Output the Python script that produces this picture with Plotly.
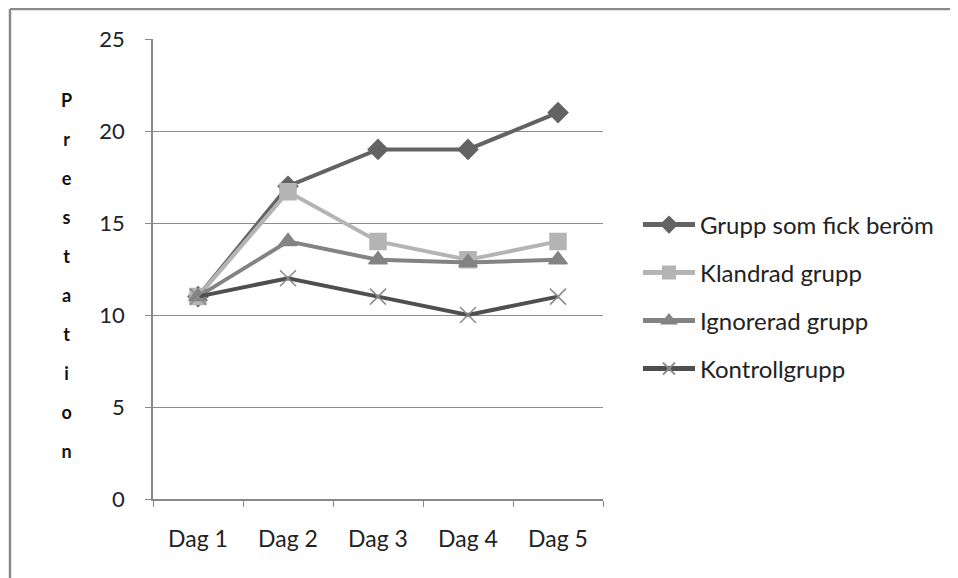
import plotly.graph_objects as go

categories = ["Dag 1", "Dag 2", "Dag 3", "Dag 4", "Dag 5"]
series_names = ["Grupp som fick beröm", "Klandrad grupp", "Ignorerad grupp", "Kontrollgrupp"]
grupp_berom = [11, 17, 19, 19, 21]
klandrad = [11, 16.7, 14, 13, 14]
ignorerad = [11, 14, 13, 12.85, 13]
kontroll = [11, 12, 11, 10, 11]
y_ticks = [0, 5, 10, 15, 20, 25]
y_title = "Prestation"

OFF = 8  # page body margin
W, H = 958 - OFF, 578 - OFF
L, R, T, B = 153 - OFF, 603 - OFF, 39 - OFF, 499 - OFF

def px_x(p):
    return (p - OFF - L) / (R - L)

def px_y(p):
    return (B - (p - OFF)) / (B - T)

styles = [
    dict(color="#636363", symbol="diamond", msize=15, mcolor="#636363"),
    dict(color="#b4b4b4", symbol="square", msize=16, mcolor="#b4b4b4"),
    dict(color="#838383", symbol="triangle-up", msize=16, mcolor="#838383"),
    dict(color="#4f4f4f", symbol="x-thin", msize=16, mcolor="#8a8a8a"),
]
data = [grupp_berom, klandrad, ignorerad, kontroll]
legend_ids = ["legend", "legend2", "legend3", "legend4"]
legend_py = [225, 273, 321, 369]

fig = go.Figure()
for name, vals, st, lid in zip(series_names, data, styles, legend_ids):
    fig.add_trace(go.Scatter(
        x=categories, y=vals, name=name, mode="lines+markers",
        line=dict(color=st["color"], width=4),
        marker=dict(symbol=st["symbol"], size=st["msize"], color=st["mcolor"],
                    line=dict(color=st["mcolor"], width=1.5)),
        legend=lid,
    ))

font_family = "Lato, 'Open Sans', sans-serif"
legend_common = dict(font=dict(family=font_family, size=24, color="#222"),
                     bgcolor="rgba(0,0,0,0)", itemwidth=52, xanchor="left",
                     yanchor="middle", itemsizing="constant")
layout_legends = {}
for lid, py in zip(legend_ids, legend_py):
    layout_legends[lid] = dict(legend_common, x=px_x(638), y=px_y(py))

letters = ["<span style='font-size:18px'>" + c + "</span>" for c in y_title]
title_text = "<br>".join(letters)

fig.update_layout(
    width=W, height=H,
    margin=dict(l=L, r=W - R, t=T, b=H - B),
    paper_bgcolor="white", plot_bgcolor="white",
    showlegend=True,
    font=dict(family=font_family, size=16, color="#222"),
    xaxis=dict(
        type="category", range=[-0.5, 4.5], showgrid=False,
        showline=True, linecolor="#888", linewidth=1.5,
        ticks="outside", ticklen=6, tickcolor="#888", tickson="boundaries",
        tickfont=dict(size=23, family=font_family), ticklabelstandoff=19,
    ),
    yaxis=dict(
        range=[0, 25], tickvals=y_ticks, showgrid=True, gridcolor="#8c8c8c", gridwidth=1,
        showline=True, linecolor="#888", linewidth=1.5, zeroline=False,
        ticks="outside", ticklen=6, tickcolor="#888",
        tickfont=dict(size=22, family=font_family), ticklabelstandoff=16,
    ),
    annotations=[dict(
        text="<b>" + title_text + "</b>", xref="paper", yref="paper",
        x=px_x(66), y=px_y(275), showarrow=False, xanchor="center", yanchor="middle",
        font=dict(size=30, family=font_family, color="#111"), align="center",
    )],
    shapes=[
        dict(type="line", xref="paper", yref="paper", x0=px_x(10), x1=px_x(980),
             y0=px_y(9), y1=px_y(9), line=dict(color="#8a8a8a", width=2.5)),
        dict(type="line", xref="paper", yref="paper", x0=px_x(10), x1=px_x(10),
             y0=px_y(9), y1=px_y(600), line=dict(color="#8a8a8a", width=2.5)),
    ],
    **layout_legends,
)

fig.write_html("out.html")
